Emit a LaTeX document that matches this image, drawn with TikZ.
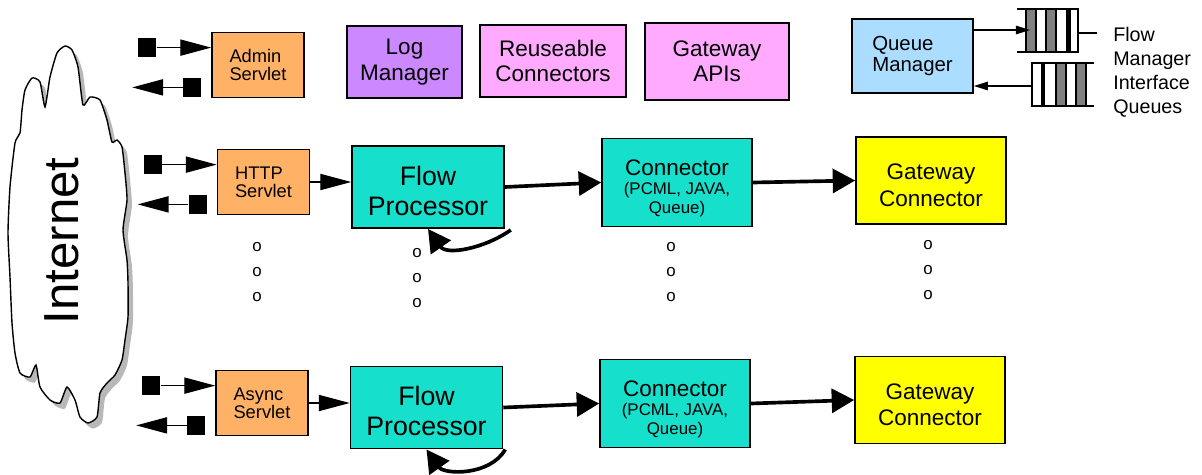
\documentclass[tikz,border=0pt]{standalone}
\usepackage{fontspec}
\setmainfont{Liberation Sans}
\usetikzlibrary{arrows.meta,calc,shadows}

\definecolor{servletorange}{RGB}{255,178,102}
\definecolor{procteal}{RGB}{22,224,204}
\definecolor{logpurple}{RGB}{204,136,255}
\definecolor{apipink}{RGB}{255,170,255}
\definecolor{queueblue}{RGB}{170,221,255}
\definecolor{gateyellow}{RGB}{255,255,0}

\newcommand{\connsub}{\fontsize{12}{13.5}\selectfont}
\newcommand{\toppad}[1]{\rule{0pt}{#1}}

\tikzset{
  box/.style={draw, line width=1.1pt, inner sep=0pt, align=center},
  servlet/.style={box, fill=servletorange, minimum width=2.3cm, minimum height=1.63cm,
    align=left, font=\fontsize{13}{13}\selectfont},
  tool/.style={box, minimum height=1.8cm, font=\fontsize{16}{18}\selectfont},
  proc/.style={box, fill=procteal, minimum width=3.8cm, minimum height=2.06cm,
    font=\fontsize{19}{21.5}\selectfont},
  conn/.style={box, fill=procteal, minimum width=3.75cm, minimum height=2.2cm,
    font=\fontsize{16}{13.5}\selectfont},
  gate/.style={box, fill=gateyellow, minimum width=3.75cm, minimum height=2.17cm,
    font=\fontsize{16}{19}\selectfont},
  port/.style={fill, inner sep=0pt, minimum size=0.46cm},
  thinarrow/.style={line width=1pt, -{Triangle[length=22pt, width=11.5pt]}},
  thickarrow/.style={line width=2.6pt, -{Triangle[length=16pt, width=17pt]}},
  qarrow/.style={line width=1pt, -{Triangle[length=10pt, width=6pt]}},
  dot/.style={font=\fontsize{12}{12}\selectfont, inner sep=0pt},
}

\begin{document}
\begin{tikzpicture}[x=0.025cm, y=-0.025cm]
    \useasboundingbox (0,0) rectangle (1202,474);

    % the cloud
    \draw[line width=1pt, fill=white,
      drop shadow={shadow xshift=3.5pt, shadow yshift=-4pt, fill=black!28, opacity=1}]
      plot[smooth cycle, tension=0.35] coordinates {
        (65,46) (72,50) (78,67) (83,105) (90,97) (100,100) (107,120) (112,142)
        (117,140) (122,147) (125,173) (127,200) (123,230) (127,260) (128,283)
        (128,317) (125,340) (122,360) (115,375) (107,383) (100,393) (97,417)
        (88,423) (80,417) (75,400) (67,387) (60,403) (50,400) (40,387) (36,365)
        (30,377) (20,373) (15,353) (12,323) (10,277) (8,233) (10,187) (15,143)
        (20,133) (22,110) (25,90) (32,78) (40,82) (45,107) (50,77) (57,53)};
    \node[rotate=90, inner sep=0pt, font=\fontsize{35}{35}\selectfont] (internet) at (62,241) {Internet};

    % servlets
    \node[servlet] (admin) at (258,65) {Admin\\Servlet};
    \node[servlet] (http) at (263.5,182) {HTTP\\Servlet};
    \node[servlet] (async) at (262,403) {Async\\Servlet};

    \foreach \s in {admin,http,async} {
        \node[port] (\s-in) at ($(\s.north west)+(-64,16)$) {};
        \draw[thinarrow] (\s-in) -- (\s.west |- \s-in);
        \node[port] (\s-out) at ($(\s.south west)+(-19,-11)$) {};
        \coordinate (\s-tip) at ($(\s.south west)+(-79,-11)$);
        \draw[thinarrow] (\s-out) -- (\s-tip);
    }

    % top row
    \node[tool, fill=logpurple, minimum width=2.875cm] (logmgr) at (404.5,62) {Log\\Manager};
    \node[tool, fill=apipink, minimum width=3.65cm] (reuse) at (553,61) {Reuseable\\Connectors};
    \node[tool, fill=apipink, minimum width=3.6cm, minimum height=1.925cm] (gwapi) at (717,61.5) {Gateway\\APIs};
    \node[box, fill=queueblue, minimum width=3.025cm, minimum height=1.85cm, align=left,
      font=\fontsize{14.5}{15.6}\selectfont] (qmgr) at (912.5,56) {Queue\\Manager};

    % queues
    \draw[line width=1pt] (1017,9) -- (1078,9) (1017,52) -- (1078,52);
    \foreach \a/\b/\c in {1026/1036/black!50, 1036/1046/white, 1046/1056/black!50,
                          1056/1067/white, 1067/1070/black, 1070/1078/white}
        \draw[line width=0.8pt, fill=\c] (\a,9) rectangle (\b,52);
    \draw[line width=1pt] (1078,33) -- (1097,33);
    \draw[line width=1pt] (1032,63) -- (1094,63) (1032,106) -- (1094,106);
    \foreach \a/\b/\c in {1032/1042/white, 1042/1044/black, 1044/1056/white,
                          1056/1066/black!50, 1066/1076/white, 1076/1086/black!50}
        \draw[line width=0.8pt, fill=\c] (\a,63) rectangle (\b,106);
    \coordinate (q1in) at (1030,30);
    \coordinate (q2out) at (1033,86);
    \draw[qarrow] (qmgr.east |- q1in) -- (q1in);
    \draw[qarrow] (q2out) -- (qmgr.east |- q2out);
    \node[anchor=north west, inner sep=0pt, align=left, font=\fontsize{14}{17}\selectfont]
      (qlabel) at (1113,27) {Flow\\Manager\\Interface\\Queues};

    % flow rows
    \node[proc] (fp1) at (428,187) {\toppad{19pt}Flow\\Processor};
    \node[conn] (conn1) at (677,182.5) {\toppad{20pt}Connector\\{\connsub (PCML, JAVA,}\\{\connsub Queue)}};
    \node[gate] (gw1) at (931,180.5) {\toppad{18pt}Gateway\\Connector};

    \node[proc] (fp2) at (426.5,407.5) {\toppad{19pt}Flow\\Processor};
    \node[conn] (conn2) at (675,403.5) {\toppad{20pt}Connector\\{\connsub (PCML, JAVA,}\\{\connsub Queue)}};
    \node[gate] (gw2) at (930,400) {\toppad{18pt}Gateway\\Connector};

    \draw[thinarrow] (http.east) -- (fp1.west |- http.east);
    \draw[thinarrow] (async.east) -- (fp2.west |- async.east);
    \draw[thickarrow] (fp1.east) -- (conn1.west);
    \draw[thickarrow] (conn1.east) -- (gw1.west);
    \draw[thickarrow] (fp2.east) -- (conn2.west);
    \draw[thickarrow] (conn2.east) -- (gw2.west);

    % loops back into the processors
    \draw[thickarrow] ($(fp1.south east)+(6,1)$) to[out=-145, in=-55] (fp1.south);
    \draw[thickarrow] ($(fp2.south east)+(2,0)$) to[out=-120, in=-55] (fp2.south);

    % more of the same
    \foreach \col/\x/\y in {1/257/247, 2/417/253, 3/671/247, 4/928/245} {
        \foreach \i in {0,1,2}
            \node[dot] (dots-\col-\i) at (\x,\y+25*\i) {o};
    }
\end{tikzpicture}
\end{document}
